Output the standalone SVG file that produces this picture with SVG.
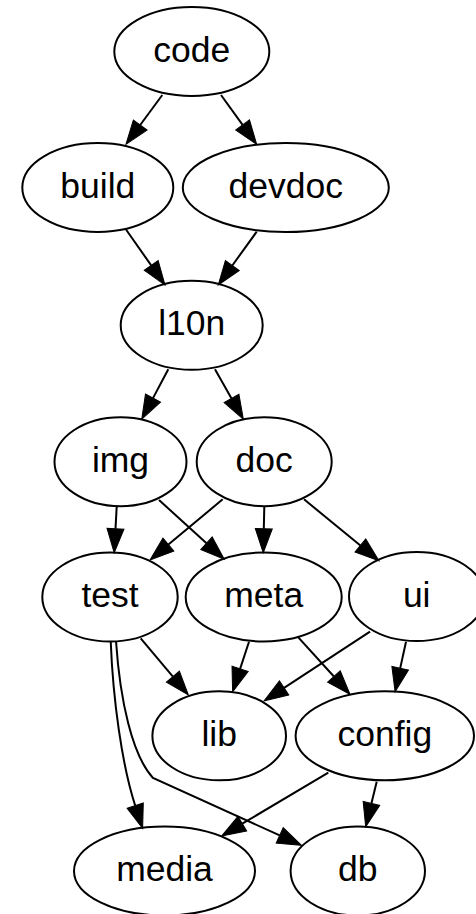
<svg xmlns="http://www.w3.org/2000/svg" width="476" height="914" viewBox="0 0 476 914">
<style>
.n ellipse{fill:none;stroke:#000;stroke-width:2}
.n text{font-family:"Liberation Sans",Arial,sans-serif;font-size:35.5px;text-anchor:middle;fill:#000}
.e path{fill:none;stroke:#000;stroke-width:2;marker-end:url(#ah)}
</style>
<defs>
<marker id="ah" markerUnits="userSpaceOnUse" markerWidth="26" markerHeight="20" refX="0" refY="8.5" orient="auto" overflow="visible">
<path d="M0,0 L24,8.5 L0,17 Z" fill="#000" stroke="#000" stroke-width="1"/>
</marker>
</defs>
<rect width="476" height="914" fill="#fff"/>
<g id="edges" class="e">
<path d="M162.3,95 L140.2,125"/>
<path d="M221,95 L242.6,124.9"/>
<path d="M126,229.5 L151.2,265.4"/>
<path d="M256.7,231.7 L232.3,265.5"/>
<path d="M168.3,369.3 L153,398.1"/>
<path d="M215,369.3 L231.5,398.4"/>
<path d="M116.7,506.5 L115.5,528.7"/>
<path d="M159,500 L206.5,543.2"/>
<path d="M222.7,499.3 L168.4,544.6"/>
<path d="M264.3,506.5 L263.8,528.7"/>
<path d="M304,499.3 L360.4,545.5"/>
<path d="M140.7,638.3 L172.9,676.6"/>
<path d="M249,641.7 L240.1,668.9"/>
<path d="M370,631.7 L284.1,687.9"/>
<path d="M298.3,637.3 L333.9,676.5"/>
<path d="M406,641.7 L400.2,668.3"/>
<path d="M110.7,641 C113,700 122,765 135.2,805.6"/>
<path d="M116,641 C120,700 132,755 153,778 L279.7,835.4"/>
<path d="M328.3,772.7 L242.3,823.7"/>
<path d="M376.7,781.7 L371.4,803.4"/>
</g>
<g id="code" class="n"><ellipse cx="191.8" cy="51.5" rx="77.5" ry="44.5"/><text x="191.8" y="61.5">code</text></g>
<g id="build" class="n"><ellipse cx="97.8" cy="187.5" rx="75.5" ry="44.5"/><text x="97.8" y="197.5">build</text></g>
<g id="devdoc" class="n"><ellipse cx="285.8" cy="187.5" rx="103" ry="44.5"/><text x="285.8" y="197.5">devdoc</text></g>
<g id="l10n" class="n"><ellipse cx="191.7" cy="325.3" rx="71" ry="44.5"/><text x="191.7" y="335.3">l10n</text></g>
<g id="img" class="n"><ellipse cx="120.5" cy="461.7" rx="66" ry="44.5"/><text x="120.5" y="471.7">img</text></g>
<g id="doc" class="n"><ellipse cx="264.2" cy="461.7" rx="67.5" ry="44.5"/><text x="264.2" y="471.7">doc</text></g>
<g id="test" class="n"><ellipse cx="110" cy="597" rx="67.7" ry="44.5"/><text x="110" y="607">test</text></g>
<g id="meta" class="n"><ellipse cx="263.7" cy="597" rx="78" ry="44.5"/><text x="263.7" y="607">meta</text></g>
<g id="ui" class="n"><ellipse cx="416.7" cy="596.5" rx="67.7" ry="44.5"/><text x="416.7" y="606.5">ui</text></g>
<g id="lib" class="n"><ellipse cx="219.2" cy="735.8" rx="66.8" ry="44.5"/><text x="219.2" y="745.8">lib</text></g>
<g id="config" class="n"><ellipse cx="384.8" cy="735.8" rx="89.2" ry="44.5"/><text x="384.8" y="745.8">config</text></g>
<g id="media" class="n"><ellipse cx="164.5" cy="871" rx="90.5" ry="44.5"/><text x="164.5" y="881">media</text></g>
<g id="db" class="n"><ellipse cx="357.8" cy="871" rx="67.2" ry="44.5"/><text x="357.8" y="881">db</text></g>
</svg>
